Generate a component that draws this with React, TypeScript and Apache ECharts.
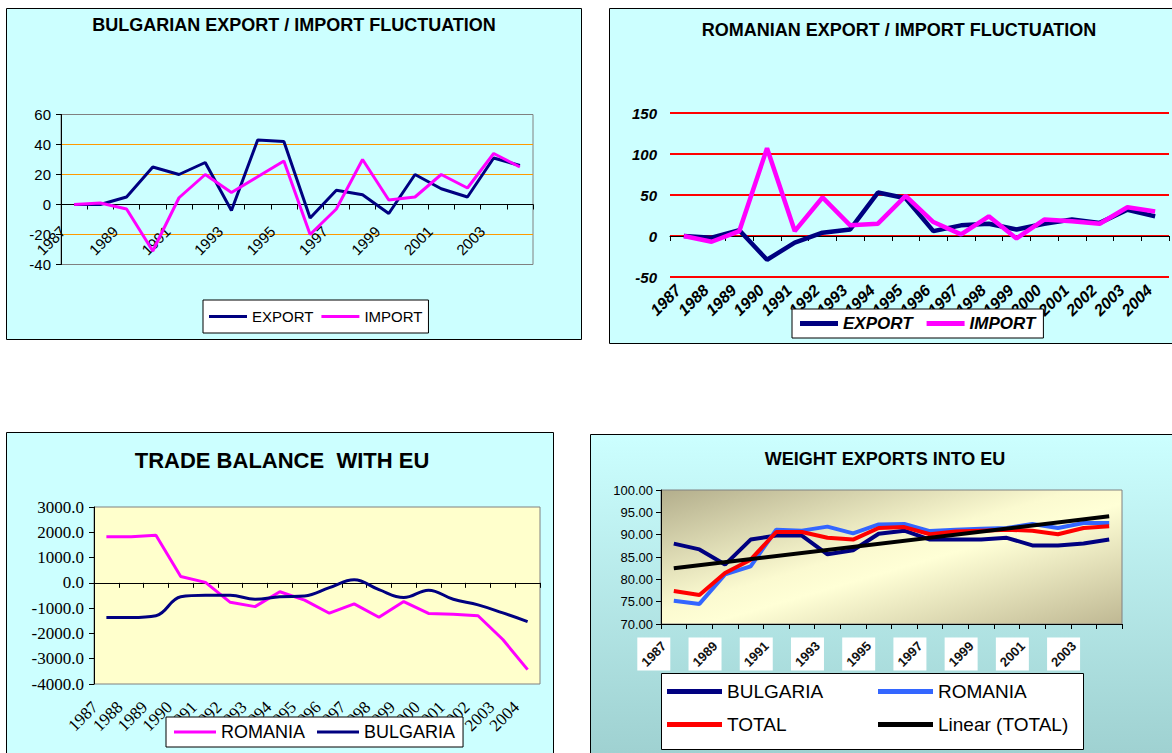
import React, { useEffect, useRef } from "react";
import * as echarts from "echarts";

const years = ["1987","1988","1989","1990","1991","1992","1993","1994","1995","1996","1997","1998","1999","2000","2001","2002","2003","2004"];

// Bulgarian export / import fluctuation
const bgExport = [0, 0, 5, 25, 20, 28, -4, 43, 42, -9, 9.5, 6.5, -6, 20, 10.5, 5, 31, 26];
const bgImport = [0, 1, -3, -31, 4.5, 20, 8, 18.5, 29, -20, -3, 30, 3, 5, 20, 11, 34, 25];

// Romanian export / import fluctuation
const roExport = [0, -2, 7, -29, -8, 4, 8, 53, 46, 6, 13, 15, 8, 15, 20, 16, 32, 24];
const roImport = [0, -7, 6, 107, 6, 47, 13, 15, 49, 17, 2, 24, -3, 20, 18, 15, 35, 30];

// Trade balance with EU
const tbRomania = [1820, 1820, 1880, 250, 20, -770, -940, -350, -680, -1200, -830, -1360, -740, -1210, -1240, -1300, -2240, -3430];
const tbBulgaria = [-1370, -1370, -1300, -550, -490, -490, -650, -550, -520, -190, 120, -270, -580, -290, -650, -870, -1190, -1530];

// Weight of exports into EU
const wBulgaria = [88.0, 86.7, 83.3, 88.9, 89.8, 89.8, 85.6, 86.5, 90.2, 90.9, 88.9, 88.9, 88.9, 89.3, 87.6, 87.6, 88.0, 88.9];
const wRomania = [75.2, 74.5, 81.1, 82.9, 91.1, 90.9, 91.8, 90.3, 92.3, 92.4, 90.8, 91.1, 91.3, 91.5, 92.4, 91.5, 92.6, 92.6];
const wTotal = [77.4, 76.5, 81.4, 84.4, 90.6, 90.6, 89.3, 88.9, 91.5, 91.7, 90.1, 90.7, 90.9, 91.1, 90.9, 90.1, 91.5, 91.9];
const linearTotalEnds = [82.5, 94.1];
const weightLabelIdx = [0, 2, 4, 6, 8, 10, 12, 14, 16];

const ARIAL = 'Arial, "Liberation Sans", sans-serif';
const TIMES = '"Times New Roman", "Liberation Serif", serif';
const NAVY = "#000080";
const MAGENTA = "#FF00FF";

const trim = (n: string) => n.trim();

function buildOption(): any {
  const linearData = years.map((_, i) =>
    i === 0 ? linearTotalEnds[0] : i === years.length - 1 ? linearTotalEnds[1] : null
  );

  const baseX = (gridIndex: number, extra: any) => ({
    gridIndex,
    type: "category",
    data: years,
    boundaryGap: true,
    axisLine: { onZero: true, lineStyle: { color: "#000", width: 1 } },
    axisTick: { show: true, interval: 0, length: 5, lineStyle: { color: "#000" } },
    splitLine: { show: false },
    ...extra,
  });

  return {
    animation: false,
    backgroundColor: "#ffffff",
    title: [
      { text: "BULGARIAN EXPORT / IMPORT FLUCTUATION", left: 294, top: 16, textAlign: "center", padding: 0,
        textStyle: { fontSize: 18, fontWeight: "bold", fontFamily: ARIAL, color: "#000" } },
      { text: "ROMANIAN EXPORT / IMPORT FLUCTUATION", left: 899, top: 21, textAlign: "center", padding: 0,
        textStyle: { fontSize: 18, fontWeight: "bold", fontFamily: ARIAL, color: "#000" } },
      { text: "TRADE BALANCE  WITH EU", left: 282, top: 449, textAlign: "center", padding: 0,
        textStyle: { fontSize: 22, fontWeight: "bold", fontFamily: ARIAL, color: "#000" } },
      { text: "WEIGHT EXPORTS INTO EU", left: 885, top: 450, textAlign: "center", padding: 0,
        textStyle: { fontSize: 18, fontWeight: "bold", fontFamily: ARIAL, color: "#000" } },
    ],
    graphic: [
      { type: "rect", z: -10, shape: { x: 6.5, y: 8.5, width: 575, height: 331 },
        style: { fill: "#CCFFFF", stroke: "#000", lineWidth: 1 } },
      { type: "rect", z: -10, shape: { x: 609.5, y: 8.5, width: 620, height: 335 },
        style: { fill: "#CCFFFF", stroke: "#000", lineWidth: 1 } },
      { type: "rect", z: -10, shape: { x: 6.5, y: 432.5, width: 547, height: 340 },
        style: { fill: "#CCFFFF", stroke: "#000", lineWidth: 1 } },
      { type: "rect", z: -10, shape: { x: 590.5, y: 434.5, width: 620, height: 340 },
        style: {
          fill: new echarts.graphic.LinearGradient(0, 0, 0, 1, [
            { offset: 0, color: "#CCFFFF" },
            { offset: 1, color: "#9CCECE" },
          ]),
          stroke: "#000", lineWidth: 1,
        } },
      { type: "rect", z: 3, shape: { x: 661.5, y: 673.5, width: 422, height: 76 },
        style: { fill: "#FFFFFF", stroke: "#000", lineWidth: 1 } },
    ],
    legend: [
      { data: ["EXPORT", "IMPORT"], left: 203, top: 300, padding: [9, 6], itemGap: 8, itemWidth: 38, itemHeight: 3, icon: "rect",
        borderColor: "#000", borderWidth: 1, backgroundColor: "#FFFFFF", selectedMode: false,
        textStyle: { fontSize: 15, fontFamily: ARIAL, color: "#000" } },
      { data: ["EXPORT ", "IMPORT "], formatter: trim, left: 792, top: 309, padding: [6, 8], itemGap: 14, itemWidth: 38, itemHeight: 5, icon: "rect",
        borderColor: "#000", borderWidth: 1, backgroundColor: "#FFFFFF", selectedMode: false,
        textStyle: { fontSize: 17, fontFamily: ARIAL, fontWeight: "bold", fontStyle: "italic", color: "#000" } },
      { data: ["ROMANIA", "BULGARIA"], left: 166, top: 717, padding: [6, 8], itemGap: 12, itemWidth: 42, itemHeight: 3, icon: "rect",
        borderColor: "#000", borderWidth: 1, backgroundColor: "#FFFFFF", selectedMode: false,
        textStyle: { fontSize: 18, fontFamily: ARIAL, color: "#000" } },
      { data: ["BULGARIA ", "TOTAL"], formatter: trim, orient: "vertical", left: 667, top: 682, padding: 0, itemGap: 14,
        itemWidth: 55, itemHeight: 5, icon: "rect", selectedMode: false,
        textStyle: { fontSize: 19, fontFamily: ARIAL, color: "#000" } },
      { data: ["ROMANIA ", "Linear (TOTAL)"], formatter: trim, orient: "vertical", left: 878, top: 682, padding: 0, itemGap: 14,
        itemWidth: 55, itemHeight: 5, icon: "rect", selectedMode: false,
        textStyle: { fontSize: 19, fontFamily: ARIAL, color: "#000" } },
    ],
    grid: [
      { left: 61, top: 114.5, width: 472, height: 150, show: true, borderColor: "#808080", borderWidth: 1, backgroundColor: "transparent" },
      { left: 670, top: 113, width: 499, height: 164, show: false },
      { left: 94, top: 507, width: 446, height: 177, show: true, borderColor: "#808080", borderWidth: 1, backgroundColor: "#FFFFCC" },
      { left: 661, top: 490, width: 461, height: 134, show: true, borderColor: "#808080", borderWidth: 1,
        backgroundColor: {
          type: "linear", global: true, x: 855.6, y: 433.5, x2: 927.4, y2: 680.5,
          colorStops: [
            { offset: 0, color: "#B3AE8C" },
            { offset: 0.45, color: "#FBFAD0" },
            { offset: 0.55, color: "#FFFFD6" },
            { offset: 1, color: "#BFB893" },
          ],
        } },
    ],
    xAxis: [
      baseX(0, {
        axisLine: { onZero: false, lineStyle: { color: "#000", width: 1 } },
        position: "bottom",
        offset: -60,
        axisLabel: { interval: 1, rotate: 45, fontSize: 15, fontFamily: ARIAL, color: "#000", margin: 13, padding: [0, 16, 0, 0] },
      }),
      baseX(1, { axisLabel: { interval: 0, rotate: 45, fontSize: 16, fontFamily: ARIAL, fontWeight: "bold", fontStyle: "italic", color: "#000", margin: 5, padding: [0, 8, 0, 0] } }),
      baseX(2, { axisLabel: { interval: 0, rotate: 45, fontSize: 17, fontFamily: TIMES, color: "#000", margin: 9, padding: [0, 16, 0, 0] } }),
      baseX(3, { axisLabel: { show: false } }),
    ],
    yAxis: [
      { gridIndex: 0, type: "value", min: -40, max: 60, interval: 20,
        axisLine: { show: true, lineStyle: { color: "#000" } },
        axisTick: { show: true, length: 5, lineStyle: { color: "#000" } },
        axisLabel: { fontSize: 15, fontFamily: ARIAL, color: "#000", margin: 10 },
        splitLine: { show: true, showMinLine: false, showMaxLine: false, lineStyle: { width: 1, color: "#FF9900" } } },
      { gridIndex: 1, type: "value", min: -50, max: 150, interval: 50,
        axisLine: { show: false }, axisTick: { show: false },
        axisLabel: { fontSize: 15, fontFamily: ARIAL, fontWeight: "bold", fontStyle: "italic", color: "#000", margin: 13 },
        splitLine: { show: true, lineStyle: { width: 2, color: "#FF0000" } } },
      { gridIndex: 2, type: "value", min: -4000, max: 3000, interval: 1000,
        axisLine: { show: true, lineStyle: { color: "#000" } },
        axisTick: { show: true, length: 5, lineStyle: { color: "#000" } },
        axisLabel: { fontSize: 17, fontFamily: TIMES, color: "#000", margin: 10, formatter: (v: number) => v.toFixed(1) },
        splitLine: { show: false } },
      { gridIndex: 3, type: "value", min: 70, max: 100, interval: 5,
        axisLine: { show: true, lineStyle: { color: "#000" } },
        axisTick: { show: true, length: 5, lineStyle: { color: "#000" } },
        axisLabel: { fontSize: 13, fontFamily: ARIAL, color: "#000", margin: 8, formatter: (v: number) => v.toFixed(2) },
        splitLine: { show: false } },
    ],
    series: [
      { name: "EXPORT", type: "line", xAxisIndex: 0, yAxisIndex: 0, data: bgExport, symbol: "none",
        lineStyle: { color: NAVY, width: 3 }, itemStyle: { color: NAVY } },
      { name: "IMPORT", type: "line", xAxisIndex: 0, yAxisIndex: 0, data: bgImport, symbol: "none",
        lineStyle: { color: MAGENTA, width: 3 }, itemStyle: { color: MAGENTA } },
      { name: "EXPORT ", type: "line", xAxisIndex: 1, yAxisIndex: 1, data: roExport, symbol: "none",
        lineStyle: { color: NAVY, width: 4.5 }, itemStyle: { color: NAVY } },
      { name: "IMPORT ", type: "line", xAxisIndex: 1, yAxisIndex: 1, data: roImport, symbol: "none",
        lineStyle: { color: MAGENTA, width: 4.5 }, itemStyle: { color: MAGENTA } },
      { name: "ROMANIA", type: "line", xAxisIndex: 2, yAxisIndex: 2, data: tbRomania, symbol: "none",
        lineStyle: { color: MAGENTA, width: 3 }, itemStyle: { color: MAGENTA } },
      { name: "BULGARIA", type: "line", xAxisIndex: 2, yAxisIndex: 2, data: tbBulgaria, symbol: "none", smooth: 0.4,
        lineStyle: { color: NAVY, width: 3 }, itemStyle: { color: NAVY } },
      { name: "BULGARIA ", type: "line", xAxisIndex: 3, yAxisIndex: 3, data: wBulgaria, symbol: "none",
        lineStyle: { color: NAVY, width: 4 }, itemStyle: { color: NAVY } },
      { name: "ROMANIA ", type: "line", xAxisIndex: 3, yAxisIndex: 3, data: wRomania, symbol: "none",
        lineStyle: { color: "#3366FF", width: 4 }, itemStyle: { color: "#3366FF" } },
      { name: "TOTAL", type: "line", xAxisIndex: 3, yAxisIndex: 3, data: wTotal, symbol: "none",
        lineStyle: { color: "#FF0000", width: 4 }, itemStyle: { color: "#FF0000" } },
      { name: "Linear (TOTAL)", type: "line", xAxisIndex: 3, yAxisIndex: 3, data: linearData, symbol: "none", connectNulls: true,
        lineStyle: { color: "#000000", width: 4 }, itemStyle: { color: "#000000" } },
      { name: "weightLabels", type: "custom", xAxisIndex: 3, yAxisIndex: 3, silent: true, clip: false,
        data: weightLabelIdx.map((i) => [i, 70]),
        renderItem: (params: any, api: any) => {
          const idx = api.value(0);
          const p = api.coord([idx, 70]);
          return {
            type: "group", x: p[0] - 20, y: p[1] + 30,
            children: [
              { type: "rect", shape: { x: -16.5, y: -16.5, width: 33, height: 33 }, style: { fill: "#FFFFFF" } },
              { type: "text", rotation: Math.PI / 4, x: 0, y: 0,
                style: { text: years[idx], align: "center", verticalAlign: "middle", fontSize: 13, fontWeight: "bold",
                  fontFamily: ARIAL, fill: "#111" } },
            ],
          };
        } },
    ],
  };
}

export default function App() {
  const ref = useRef<HTMLDivElement>(null);
  useEffect(() => {
    const chart = echarts.init(ref.current as HTMLDivElement, null, { renderer: "svg" });
    chart.setOption(buildOption());
    return () => chart.dispose();
  }, []);
  return <div ref={ref} style={{ position: "fixed", left: 0, top: 0, width: 1172, height: 753 }} />;
}
